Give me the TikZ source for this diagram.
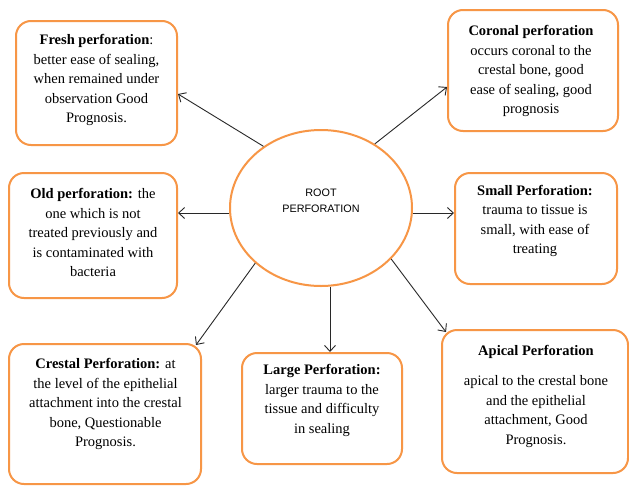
\documentclass[tikz,border=0pt]{standalone}
\usepackage{fontspec}
\setmainfont{Liberation Serif}
\newfontfamily\rootfont{Liberation Sans}
\usetikzlibrary{arrows.meta,shapes.geometric}
\definecolor{boxorange}{RGB}{247,150,70}
\definecolor{arrgray}{RGB}{40,40,40}
\tikzset{
  box/.style={draw=boxorange, line width=2pt, rounded corners=15pt, fill=white},
  txt/.style={align=center, inner sep=0pt, font=\fontsize{14.5}{19.5}\selectfont},
  arr/.style={draw=arrgray, line width=0.9pt, -{Straight Barb[length=6pt,width=11pt]}},
}
\begin{document}
\begin{tikzpicture}[x=1pt,y=-1pt]
\useasboundingbox[fill=white] (0,0) rectangle (629,485);
% central ellipse
\node[ellipse, draw=boxorange, line width=2pt, fill=white, minimum width=182pt, minimum height=156pt, inner sep=0pt] (root) at (321,208) {};
\node[align=center, inner sep=0pt, font=\rootfont\fontsize{10.8}{16}\selectfont] (rootT) at (321,201) {ROOT\\PERFORATION};
% boxes
\node[box, minimum width=161pt, minimum height=124pt] (fresh) at (96.5,83) {};
\node[box, minimum width=170pt, minimum height=121pt] (coronal) at (533,70.5) {};
\node[box, minimum width=168pt, minimum height=125pt] (old) at (93,235.5) {};
\node[box, minimum width=162pt, minimum height=111pt] (small) at (536,228.5) {};
\node[box, minimum width=192pt, minimum height=140pt] (crestal) at (105,414) {};
\node[box, minimum width=160pt, minimum height=111pt] (large) at (322,408.5) {};
\node[box, minimum width=186pt, minimum height=143pt] (apical) at (535,401.5) {};
% texts
\node[txt] (freshT) at (96.5,80) {\textbf{Fresh perforation}:\\better ease of sealing,\\when remained under\\observation Good\\Prognosis.};
\node[txt] (coronalT) at (531,71) {\textbf{Coronal perforation}\\occurs coronal to the\\crestal bone, good\\ease of sealing, good\\prognosis};
\node[txt] (oldT) at (93,232.5) {\textbf{Old perforation:} the\\one which is not\\treated previously and\\is contaminated with\\bacteria};
\node[txt] (smallT) at (535,221) {\textbf{Small Perforation:}\\trauma to tissue is\\small, with ease of\\treating};
\node[txt] (crestalT) at (105.5,404) {\textbf{Crestal Perforation:} at\\the level of the epithelial\\attachment into the crestal\\bone, Questionable\\Prognosis.};
\node[txt] (largeT) at (322,400.5) {\textbf{Large Perforation:}\\larger trauma to the\\tissue and difficulty\\in sealing};
\node[txt] (apicalT) at (536,396) {\textbf{Apical Perforation}\\[11pt]apical to the crestal bone\\and the epithelial\\attachment, Good\\Prognosis.};
% connectors
\draw[arr] (root.133) -- ([yshift=-11pt]fresh.east);
\draw[arr] (root.50) -- ([yshift=-16.5pt]coronal.west);
\draw[arr] ([yshift=-5pt]root.west) -- ([yshift=-5pt]root.west -| old.east);
\draw[arr] ([yshift=-5pt]root.east) -- ([yshift=-5pt]root.east -| small.west);
\draw[arr] (root.220) -- ([xshift=-6pt,yshift=-2pt]crestal.north east);
\draw[arr] ([xshift=9pt]root.south) -- ([xshift=9pt]root.south |- large.north);
\draw[arr] (root.324) -- ([xshift=5pt,yshift=-3pt]apical.north west);
\end{tikzpicture}
\end{document}
